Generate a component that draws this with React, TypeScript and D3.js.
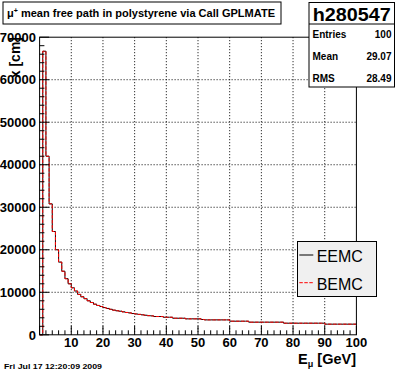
import * as d3 from "d3";
import React from "react";

// bin contents, 100 bins of 1 GeV from 0 to 100
const binValues = [
  0, 66700, 42000, 30800, 24300, 20000, 17100, 14950, 13200, 12000,
  11050, 10300, 9500, 8950, 8500, 8000, 7600, 7200, 6900, 6650,
  6400, 6200, 6000, 5800, 5650, 5550, 5400, 5250, 5150, 5000,
  4900, 4800, 4700, 4600, 4500, 4450, 4300, 4300, 4300, 4130,
  4130, 4130, 3900, 3900, 3900, 3900, 3750, 3750, 3750, 3750,
  3750, 3600, 3510, 3510, 3510, 3510, 3510, 3510, 3510, 3510,
  3200, 3200, 3200, 3200, 3200, 3200, 2970, 2970, 2970, 2970,
  2970, 2970, 2970, 2970, 2970, 2970, 2970, 2730, 2730, 2730,
  2730, 2730, 2730, 2730, 2730, 2730, 2730, 2730, 2730, 2730,
  2500, 2500, 2500, 2500, 2500, 2500, 2500, 2500, 2500, 2500,
];
const xTickLabels = [10, 20, 30, 40, 50, 60, 70, 80, 90, 100];
const yTickLabels = [0, 10000, 20000, 30000, 40000, 50000, 60000, 70000];
const statsRows = [
  ["Entries", "100"],
  ["Mean", "29.07"],
  ["RMS", "28.49"],
];
const legendItems = ["EEMC", "BEMC"];

const font = "'Liberation Sans', Arial, Helvetica, sans-serif";

const App = () => {
  const width = 396;
  const height = 372;
  const left = 39.6, right = 356.4, top = 37.2, bottom = 334.8;

  const x = d3.scaleLinear().domain([0, 100]).range([left, right]);
  const y = d3.scaleLinear().domain([0, 70000]).range([bottom, top]);

  const pts: [number, number][] = binValues.map((v, i) => [i, v]);
  pts.push([100, binValues[binValues.length - 1]]);
  const histPath = d3
    .line<[number, number]>()
    .x((d) => x(d[0]))
    .y((d) => y(d[1]))
    .curve(d3.curveStepAfter)([[0, 0], ...pts]);

  const xMinor = d3.range(0, 101, 2);
  const yMinor = d3.range(0, 70001, 2000);

  return (
    <svg width={width} height={height} style={{ position: "absolute", left: 0, top: 0, background: "#fff" }} fontFamily={font}>
      <rect width={width} height={height} fill="#fff" />

      {/* grid */}
      {xTickLabels.filter((t) => t < 100).map((t) => (
        <line key={"gx" + t} x1={x(t)} x2={x(t)} y1={top} y2={bottom} stroke="#000" strokeDasharray="1,2" />
      ))}
      {yTickLabels.filter((t) => t > 0 && t < 70000).map((t) => (
        <line key={"gy" + t} x1={left} x2={right} y1={y(t)} y2={y(t)} stroke="#000" strokeDasharray="1,2" />
      ))}

      {/* histogram: black solid then red dashed */}
      <path d={histPath || ""} fill="none" stroke="#000" strokeWidth={1} />
      <path d={histPath || ""} fill="none" stroke="#ff0000" strokeWidth={1} strokeDasharray="3.5,1.5" />

      {/* frame */}
      <rect x={left} y={top} width={right - left} height={bottom - top} fill="none" stroke="#000" strokeWidth={1} />

      {/* x ticks */}
      {xMinor.map((t) => (
        <line key={"xt" + t} x1={x(t)} x2={x(t)} y1={bottom} y2={bottom - (t % 10 === 0 ? 8.9 : 4.5)} stroke="#000" />
      ))}
      {xTickLabels.map((t) => (
        <text key={"xl" + t} x={x(t)} y={346.5} textAnchor="middle" fontSize={13} fontWeight="bold">{t}</text>
      ))}
      {/* y ticks */}
      {yMinor.map((t) => (
        <line key={"yt" + t} x1={left} x2={left + (t % 10000 === 0 ? 9.5 : 4.8)} y1={y(t)} y2={y(t)} stroke="#000" />
      ))}
      {yTickLabels.map((t) => (
        <text key={"yl" + t} x={36} y={y(t) + 4.7} textAnchor="end" fontSize={13} fontWeight="bold">{t}</text>
      ))}

      {/* axis titles */}
      <text x={356} y={363.5} textAnchor="end" fontSize={14.5} fontWeight="bold">
        E<tspan fontSize={9} dy={3}>μ</tspan><tspan dy={-3}> [GeV]</tspan>
      </text>
      <text transform={`translate(20,37) rotate(-90)`} textAnchor="end" fontSize={14} fontWeight="bold">x [cm]</text>

      {/* title box */}
      <rect x={3} y={2} width={278} height={22} fill="#fff" stroke="#000" />
      <text x={7} y={16.5} fontSize={11} fontWeight="bold" textLength={268} lengthAdjust="spacingAndGlyphs">
        μ<tspan fontSize={7} dy={-4}>+</tspan><tspan dy={4}> mean free path in polystyrene via Call GPLMATE</tspan>
      </text>

      {/* stats box */}
      <rect x={309} y={2.5} width={85.5} height={84.5} fill="#fff" stroke="#000" />
      <line x1={309} x2={394.5} y1={24} y2={24} stroke="#000" />
      <text x={351.7} y={20.5} textAnchor="middle" fontSize={18} fontWeight="bold" textLength={78} lengthAdjust="spacingAndGlyphs">h280547</text>
      {statsRows.map(([k, v], i) => (
        <g key={k}>
          <text x={312.5} y={37.5 + i * 22.3} fontSize={10} fontWeight="bold">{k}</text>
          <text x={391.5} y={37.5 + i * 22.3} textAnchor="end" fontSize={10} fontWeight="bold">{v}</text>
        </g>
      ))}

      {/* legend */}
      <rect x={297.5} y={241.5} width={79} height={55} fill="#f0f0f0" stroke="#000" />
      {legendItems.map((name, i) => (
        <g key={name}>
          <line x1={299.3} x2={313.3} y1={255 + i * 27.7} y2={255 + i * 27.7}
            stroke={i === 0 ? "#000" : "#ff0000"} strokeDasharray={i === 0 ? undefined : "3.5,1.5"} />
          <text x={316.7} y={262.3 + i * 27.7} fontSize={16}>{name}</text>
        </g>
      ))}

      {/* date */}
      <text x={4} y={368.5} fontSize={8} fontWeight="bold" textLength={98} lengthAdjust="spacingAndGlyphs">Fri Jul 17 12:20:09 2009</text>
    </svg>
  );
};

export default App;
